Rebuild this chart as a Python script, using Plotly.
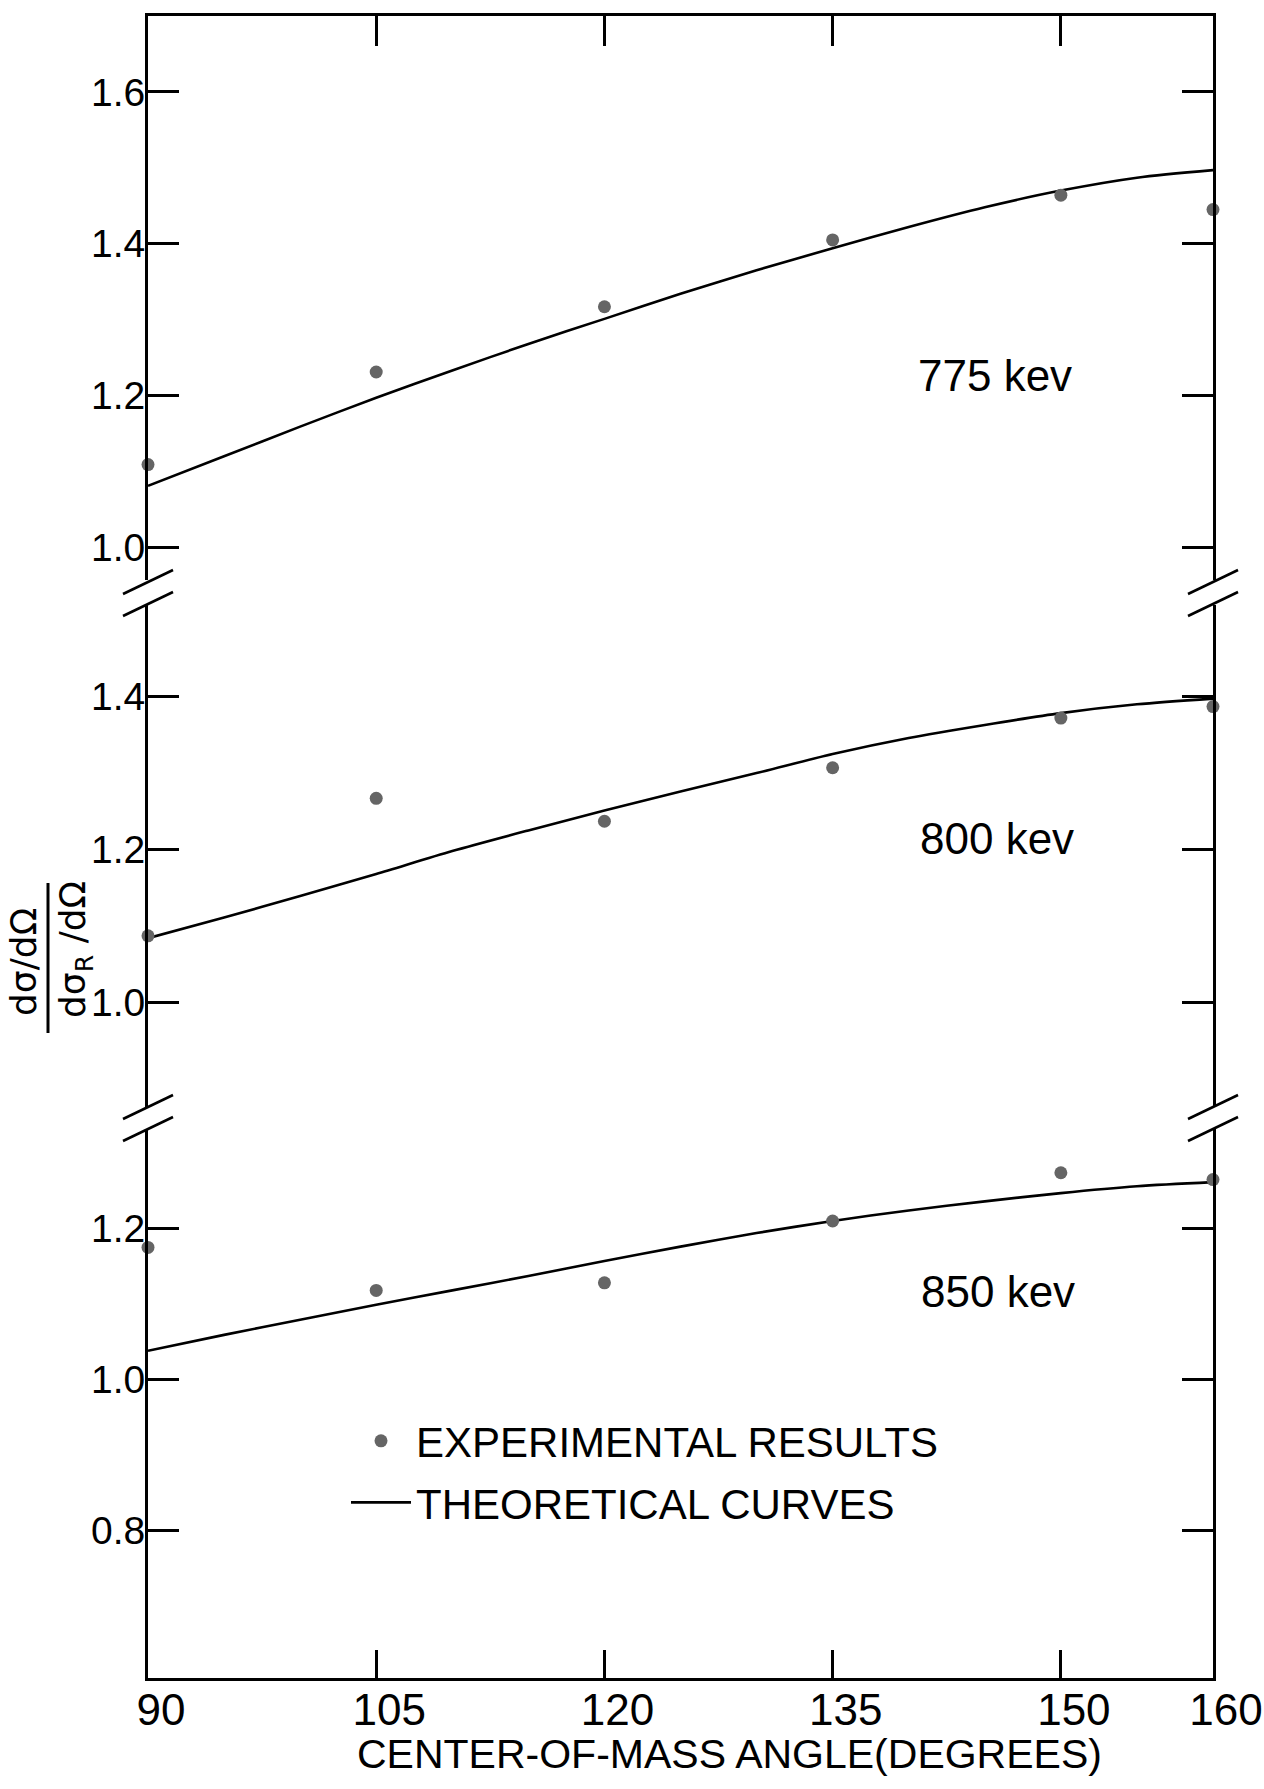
import plotly.graph_objects as go

# ---------------- data ----------------
angles = [90, 105, 120, 135, 150, 160]
exp_775 = [1.109, 1.231, 1.317, 1.405, 1.464, 1.445]
exp_800 = [1.087, 1.267, 1.237, 1.307, 1.372, 1.387]
exp_850 = [1.175, 1.118, 1.128, 1.210, 1.274, 1.265]

theory_angles = [90, 95, 100, 105, 110, 115, 120, 125, 130, 135, 140, 145, 150, 155, 160]
theory_775 = [1.081, 1.120, 1.159, 1.197, 1.233, 1.268, 1.301, 1.334, 1.365, 1.394, 1.422, 1.448, 1.470, 1.487, 1.497]
theory_800 = [1.084, 1.111, 1.139, 1.168, 1.198, 1.225, 1.251, 1.276, 1.300, 1.325, 1.346, 1.363, 1.3785, 1.390, 1.3975]
theory_850 = [1.038, 1.059, 1.079, 1.099, 1.118, 1.137, 1.157, 1.176, 1.194, 1.210, 1.224, 1.236, 1.247, 1.256, 1.2615]

energy_labels = ["775 kev", "800 kev", "850 kev"]
energy_label_pos = [(145.7, 1.227), (145.8, 1.214), (145.9, 1.116)]

x_tick_vals = [90, 105, 120, 135, 150, 160]
x_tick_text = ["90", "105", "120", "135", "150", "160"]
y_tick_vals = [[1.0, 1.2, 1.4, 1.6], [1.0, 1.2, 1.4], [0.8, 1.0, 1.2]]
y_ranges = [[0.957, 1.70], [0.863, 1.52], [0.604, 1.332]]
x_range = [90, 160]

# ---------------- layout geometry (pixels) ----------------
W, H = 1264, 1789
LEFT, RIGHT, TOP, BOTTOM = 148, 1213, 16, 1678
AW, AH = RIGHT - LEFT, BOTTOM - TOP
panel_px = [(TOP, 580), (605, 1107), (1129, BOTTOM)]


def px2paper(px, py):
    return (px - LEFT) / AW, (BOTTOM - py) / AH


domains = [[(BOTTOM - b) / AH, (BOTTOM - t) / AH] for t, b in panel_px]

REG = "Liberation Sans, Arial, sans-serif"
DOT = "#656565"

fig = go.Figure()

exp_sets = [exp_775, exp_800, exp_850]
th_sets = [theory_775, theory_800, theory_850]
for i in range(3):
    xa = "x" if i == 0 else f"x{i+1}"
    ya = "y" if i == 0 else f"y{i+1}"
    fig.add_trace(go.Scatter(
        x=theory_angles, y=th_sets[i], mode="lines", xaxis=xa, yaxis=ya,
        line=dict(color="black", width=2.6, shape="spline", smoothing=0.8),
        name="THEORETICAL CURVES", showlegend=(i == 0), legendrank=2,
        legendgroup="b", hoverinfo="skip"))
    fig.add_trace(go.Scatter(
        x=angles, y=exp_sets[i], mode="markers", xaxis=xa, yaxis=ya,
        marker=dict(color=DOT, size=13, line=dict(width=0)),
        cliponaxis=False,
        name="EXPERIMENTAL RESULTS", showlegend=(i == 0), legendrank=1,
        legendgroup="a"))

axis_common = dict(showgrid=False, zeroline=False, showline=True,
                   linecolor="black", linewidth=3, ticks="inside",
                   tickcolor="black", tickwidth=2.5, automargin=False)

layout = dict(
    width=W, height=H, autosize=False,
    margin=dict(l=LEFT, r=W - RIGHT, t=TOP, b=H - BOTTOM),
    paper_bgcolor="white", plot_bgcolor="white",
    showlegend=True,
    legend=dict(x=px2paper(346, 0)[0], y=px2paper(0, 1407)[1],
                xanchor="left", yanchor="top",
                font=dict(family=REG, size=42, color="black"),
                bgcolor="rgba(0,0,0,0)", itemwidth=60, tracegroupgap=4,
                traceorder="grouped"),
)

# top panel x axis -> top frame with downward ticks
layout["xaxis"] = dict(axis_common, range=x_range, domain=[0, 1], anchor="y",
                       side="top", tickvals=[105, 120, 135, 150], ticklen=30,
                       showticklabels=False)
layout["xaxis2"] = dict(range=x_range, domain=[0, 1], anchor="y2", visible=False)
layout["xaxis3"] = dict(axis_common, range=x_range, domain=[0, 1], anchor="y3",
                        side="bottom", tickvals=x_tick_vals, ticktext=x_tick_text,
                        ticklen=28, ticklabelshift=13, ticklabelstandoff=-9,
                        ticklabeloverflow="allow",
                        tickfont=dict(family=REG, size=44, color="black"))

for i in range(3):
    key = "yaxis" if i == 0 else f"yaxis{i+1}"
    anchor = "x" if i == 0 else f"x{i+1}"
    layout[key] = dict(axis_common, range=y_ranges[i], domain=domains[i],
                       anchor=anchor, mirror="ticks", ticklen=31,
                       tickvals=y_tick_vals[i], ticklabelstandoff=-8,
                       ticklabeloverflow="allow",
                       ticktext=[f"{v:.1f}" for v in y_tick_vals[i]],
                       tickfont=dict(family=REG, size=39, color="black"))

fig.update_layout(**layout)

# x-axis title (placed slightly right of centre, as in the reference)
tx, ty = px2paper(729, 1754)
fig.add_annotation(x=tx, y=ty, xref="paper", yref="paper",
                   text="CENTER-OF-MASS ANGLE(DEGREES)", showarrow=False,
                   xanchor="center", yanchor="middle",
                   font=dict(family=REG, size=41, color="black"))

# energy labels
for i, (lab, (ax_, ay_)) in enumerate(zip(energy_labels, energy_label_pos)):
    xr = "x" if i == 0 else f"x{i+1}"
    yr = "y" if i == 0 else f"y{i+1}"
    fig.add_annotation(x=ax_, y=ay_, xref=xr, yref=yr, text=lab, showarrow=False,
                       xanchor="center", yanchor="middle",
                       font=dict(family=REG, size=44, color="black"))

# y-axis title as a rotated fraction
nx, ny = px2paper(23, 962)
dx, dy = px2paper(76, 950)
fig.add_annotation(x=nx, y=ny, xref="paper", yref="paper", text="dσ/dΩ",
                   textangle=-90, showarrow=False, xanchor="center", yanchor="middle",
                   font=dict(family="DejaVu Sans", size=36, color="black"))
fig.add_annotation(x=dx, y=dy, xref="paper", yref="paper",
                   text="dσ<sub>R</sub> /dΩ",
                   textangle=-90, showarrow=False, xanchor="center", yanchor="middle",
                   font=dict(family="DejaVu Sans", size=36, color="black"))
bx0, by0 = px2paper(48, 1033)
bx1, by1 = px2paper(48, 883)
fig.add_shape(type="line", xref="paper", yref="paper", x0=bx0, y0=by0, x1=bx1, y1=by1,
              line=dict(color="black", width=3))

# axis-break slashes on both vertical axes
for px in (LEFT, RIGHT):
    for py in (582, 604, 1107, 1129):
        x0, y0 = px2paper(px - 25, py + 12)
        x1, y1 = px2paper(px + 25, py - 12)
        fig.add_shape(type="line", xref="paper", yref="paper",
                      x0=x0, y0=y0, x1=x1, y1=y1,
                      line=dict(color="black", width=2.6))

fig.write_html("out.html")
